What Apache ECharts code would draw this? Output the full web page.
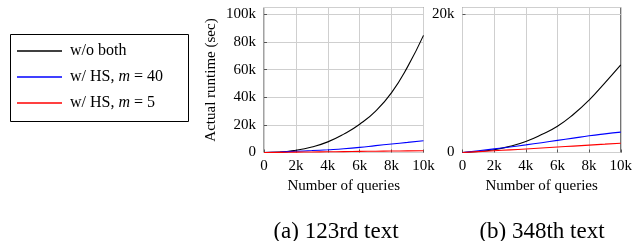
<!DOCTYPE html>
<html>
<head>
<meta charset="utf-8">
<script src="https://cdn.jsdelivr.net/npm/echarts@6/dist/echarts.min.js"></script>
<style>
  html, body { margin: 0; padding: 0; background: #fff; }
  #chart { width: 635px; height: 241px; }
</style>
</head>
<body>
<div id="chart"></div>
<script>
// number of queries
var queries = [0, 1000, 2000, 3000, 4000, 5000, 6000, 7000, 8000, 9000, 10000];

// (a) 123rd text
var woBothA = [0, 300, 1600, 4000, 7700, 13300, 20500, 30000, 43400, 62000, 84800];
var hs40A   = [0, 400, 900, 1400, 2000, 2700, 3700, 5000, 6200, 7300, 8500];
var hs5A    = [0, 120, 250, 390, 520, 660, 790, 920, 1050, 1180, 1320];

// (b) 348th text
var woBothB = [0, 150, 400, 900, 1600, 2600, 3800, 5500, 7600, 10100, 12700];
var hs40B   = [0, 250, 520, 800, 1100, 1420, 1750, 2080, 2420, 2700, 2950];
var hs5B    = [0, 120, 250, 380, 510, 650, 790, 930, 1070, 1210, 1350];

var seriesNames = ['w/o both', 'w/ HS, m = 40', 'w/ HS, m = 5'];
var captions = ['(a) 123rd text', '(b) 348th text'];

var serif = "'Liberation Serif', 'DejaVu Serif', serif";

function pairs(ys) {
  return queries.map(function (q, i) { return [q, ys[i]]; });
}

function kFmt(v) {
  return v === 0 ? '0' : (v / 1000) + 'k';
}

function xAxisOf(idx) {
  return {
    type: 'value', gridIndex: idx, min: 0, max: 10000, interval: 2000,
    name: 'Number of queries', nameLocation: 'middle', nameGap: 25,
    nameTextStyle: { fontFamily: serif, fontSize: 15, color: '#000' },
    axisLine: { show: false },
    axisTick: { show: true, inside: true, length: 3, lineStyle: { color: '#555' } },
    axisLabel: { fontFamily: serif, fontSize: 15, color: '#000', margin: 6, formatter: kFmt },
    splitLine: { show: true, lineStyle: { color: '#cfcfcf', width: 1 } }
  };
}

function yAxisOf(idx, max, step, name) {
  return {
    type: 'value', gridIndex: idx, min: 0, max: max, interval: step,
    name: name, nameLocation: 'middle', nameGap: 45,
    nameTextStyle: { fontFamily: serif, fontSize: 15, color: '#000' },
    axisLine: { show: false },
    axisTick: { show: true, inside: true, length: 3, lineStyle: { color: '#555' } },
    axisLabel: { fontFamily: serif, fontSize: 15, color: '#000', margin: 8, showMaxLabel: false, formatter: kFmt },
    splitLine: { show: true, lineStyle: { color: '#cfcfcf', width: 1 } }
  };
}

function lineOf(name, idx, ys, color) {
  return {
    name: name, type: 'line', xAxisIndex: idx, yAxisIndex: idx,
    data: pairs(ys), showSymbol: false, symbol: 'none', smooth: true,
    lineStyle: { color: color, width: 1.1 }, itemStyle: { color: color },
    animation: false
  };
}

var chart = echarts.init(document.getElementById('chart'));
chart.setOption({
  animation: false,
  grid: [
    { left: 264, top: 7.5, width: 159.5, height: 145, show: true, borderColor: '#444', borderWidth: 1, backgroundColor: 'transparent' },
    { left: 462.5, top: 7.5, width: 159.5, height: 145, show: true, borderColor: '#444', borderWidth: 1, backgroundColor: 'transparent' }
  ],
  xAxis: [xAxisOf(0), xAxisOf(1)],
  yAxis: [yAxisOf(0, 105000, 20000, 'Actual runtime (sec)'), yAxisOf(1, 21000, 20000, '')],
  legend: {
    orient: 'vertical', left: 17, top: 43, padding: 0,
    data: seriesNames, icon: 'rect', itemWidth: 45, itemHeight: 1.3, itemGap: 10,
    textStyle: {
      fontFamily: serif, fontSize: 16, color: '#000', padding: [0, 0, 0, 3],
      rich: {
        n: { fontFamily: serif, fontSize: 16, color: '#000', lineHeight: 18 },
        i: { fontFamily: serif, fontSize: 16, color: '#000', fontStyle: 'italic', lineHeight: 18 }
      }
    },
    formatter: function (name) {
      var m = name.indexOf('m = ');
      if (m < 0) return '{n|' + name + '}';
      return '{n|' + name.slice(0, m) + '}{i|m}{n|' + name.slice(m + 1) + '}';
    }
  },
  graphic: [
    { type: 'rect', left: 8, top: 32, shape: { width: 178, height: 87 }, style: { fill: 'none', stroke: '#000', lineWidth: 1 } },
    { type: 'text', x: 336, y: 232, style: { text: captions[0], font: "23px 'Liberation Serif', serif", fill: '#000', textAlign: 'center', textVerticalAlign: 'middle' } },
    { type: 'text', x: 542, y: 232, style: { text: captions[1], font: "23px 'Liberation Serif', serif", fill: '#000', textAlign: 'center', textVerticalAlign: 'middle' } }
  ],
  series: [
    lineOf(seriesNames[0], 0, woBothA, '#000000'),
    lineOf(seriesNames[1], 0, hs40A, '#0000ff'),
    lineOf(seriesNames[2], 0, hs5A, '#ff0000'),
    lineOf(seriesNames[0], 1, woBothB, '#000000'),
    lineOf(seriesNames[1], 1, hs40B, '#0000ff'),
    lineOf(seriesNames[2], 1, hs5B, '#ff0000')
  ]
});
</script>
</body>
</html>
